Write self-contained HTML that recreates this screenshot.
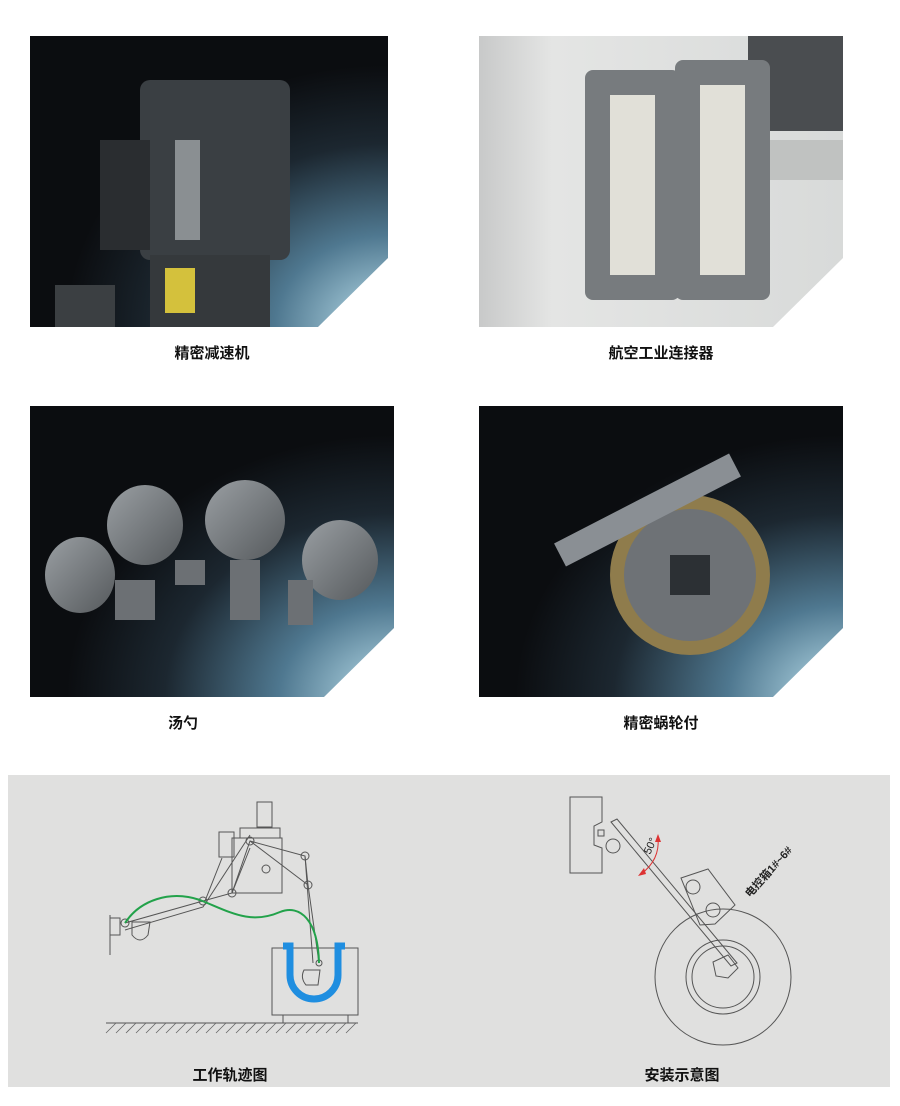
<!DOCTYPE html>
<html><head><meta charset="utf-8"><style>
body{margin:0;background:#fff;width:900px;height:1106px;overflow:hidden;font-family:"Liberation Sans","Noto Sans CJK SC",sans-serif}
</style></head><body>
<svg width="900" height="1106" xmlns="http://www.w3.org/2000/svg" style="position:absolute;left:0;top:0">
<defs>
<radialGradient id="g1" cx="1" cy="1" r="0.9">
<stop offset="0" stop-color="#bfe3ef"/><stop offset="0.35" stop-color="#4f7890"/><stop offset="0.7" stop-color="#1c2730"/><stop offset="1" stop-color="#0b0d10"/></radialGradient>
<linearGradient id="g2" x1="0" y1="0" x2="1" y2="0"><stop offset="0" stop-color="#c8c9c9"/><stop offset="0.2" stop-color="#e4e5e4"/><stop offset="1" stop-color="#d8dad9"/></linearGradient>
<linearGradient id="metal" x1="0" y1="0" x2="1" y2="1"><stop offset="0" stop-color="#9a9fa3"/><stop offset="1" stop-color="#55595c"/></linearGradient>
</defs>
<polygon points="30,36 388,36 388,258 318,327 30,327" fill="url(#g1)"/>
<rect x="140" y="80" width="150" height="180" rx="10" fill="#3a3f43"/>
<rect x="100" y="140" width="50" height="110" fill="#2a2d30"/>
<rect x="150" y="255" width="120" height="72" fill="#35393c"/>
<rect x="165" y="268" width="30" height="45" fill="#d4c13c"/>
<rect x="175" y="140" width="25" height="100" fill="#8a8f92"/>
<rect x="55" y="285" width="60" height="42" fill="#3b3f42"/>
<polygon points="479,36 843,36 843,258 773,327 479,327" fill="url(#g2)"/>
<rect x="748" y="36" width="95" height="95" fill="#4a4d50"/>
<rect x="748" y="140" width="95" height="40" fill="#c0c2c1"/>
<rect x="585" y="70" width="95" height="230" rx="8" fill="#777b7e"/>
<rect x="610" y="95" width="45" height="180" fill="#e1e0d8"/>
<rect x="675" y="60" width="95" height="240" rx="8" fill="#777b7e"/>
<rect x="700" y="85" width="45" height="190" fill="#e1e0d8"/>
<polygon points="30,406 394,406 394,628 324,697 30,697" fill="url(#g1)"/>
<ellipse cx="80" cy="575" rx="35" ry="38" fill="url(#metal)"/>
<ellipse cx="145" cy="525" rx="38" ry="40" fill="url(#metal)"/>
<ellipse cx="245" cy="520" rx="40" ry="40" fill="url(#metal)"/>
<ellipse cx="340" cy="560" rx="38" ry="40" fill="url(#metal)"/>
<rect x="115" y="580" width="40" height="40" fill="#6c7074"/>
<rect x="175" y="560" width="30" height="25" fill="#6c7074"/>
<rect x="230" y="560" width="30" height="60" fill="#6c7074"/>
<rect x="288" y="580" width="25" height="45" fill="#6c7074"/>
<polygon points="479,406 843,406 843,628 773,697 479,697" fill="url(#g1)"/>
<circle cx="690" cy="575" r="80" fill="#8f7c4c"/>
<circle cx="690" cy="575" r="66" fill="#6e7276"/>
<rect x="670" y="555" width="40" height="40" fill="#2c3034"/>
<line x1="560" y1="555" x2="735" y2="465" stroke="#8a8f94" stroke-width="26"/>
<g font-size="15" font-weight="bold" fill="#111" text-anchor="middle">
<text x="212" y="358">精密减速机</text>
<text x="661" y="358">航空工业连接器</text>
<text x="183" y="728">汤勺</text>
<text x="661" y="728">精密蜗轮付</text>
</g>
<rect x="8" y="775" width="882" height="312" fill="#e0e0df"/>
<g fill="none" stroke="#555" stroke-width="1">
<rect x="257" y="802" width="15" height="25"/><rect x="240" y="828" width="40" height="10"/>
<rect x="219" y="832" width="15" height="25"/>
<rect x="232" y="838" width="50" height="55"/>
<path d="M125,923 L203,901 L232,893 L250,841 L305,856 L308,885 L319,963"/>
<path d="M125,930 L203,907 L250,835 M250,848 L232,893 M250,841 L308,885 M205,901 L222,858 M305,856 L313,963"/>
<circle cx="125" cy="923" r="4"/><circle cx="203" cy="901" r="4"/><circle cx="232" cy="893" r="4"/><circle cx="250" cy="841" r="4"/><circle cx="305" cy="856" r="4"/><circle cx="308" cy="885" r="4"/><circle cx="319" cy="963" r="3"/><circle cx="266" cy="869" r="4"/>
<path d="M110,918 L120,918 L120,935 L110,935 M110,915 L110,955"/>
<path d="M132,922 L150,922 L148,935 Q140,945 132,935Z"/>
<path d="M304,970 L320,970 L318,985 L306,985 Q300,978 304,970Z"/>
<rect x="272" y="948" width="86" height="67"/>
<path d="M283,1015 L283,1023 M348,1015 L348,1023"/>
<line x1="106" y1="1023" x2="358" y2="1023"/>
</g>
<path d="M106,1033 l10,-10 M116,1033 l10,-10 M126,1033 l10,-10 M136,1033 l10,-10 M146,1033 l10,-10 M156,1033 l10,-10 M166,1033 l10,-10 M176,1033 l10,-10 M186,1033 l10,-10 M196,1033 l10,-10 M206,1033 l10,-10 M216,1033 l10,-10 M226,1033 l10,-10 M236,1033 l10,-10 M246,1033 l10,-10 M256,1033 l10,-10 M266,1033 l10,-10 M276,1033 l10,-10 M286,1033 l10,-10 M296,1033 l10,-10 M306,1033 l10,-10 M316,1033 l10,-10 M326,1033 l10,-10 M336,1033 l10,-10 M346,1033 l10,-10" stroke="#666" stroke-width="0.8"/>
<path d="M283,946 L290,946 L290,975 A24,24 0 0 0 338,975 L338,946 L345,946" fill="none" stroke="#1f8ee0" stroke-width="7"/>
<path d="M125,923 C140,900 170,890 200,900 C230,912 250,925 280,912 C300,904 318,920 319,963" fill="none" stroke="#22a24a" stroke-width="2"/>
<g fill="none" stroke="#555" stroke-width="1">
<path d="M570,797 L602,797 L602,822 L594,826 L594,845 L602,848 L602,873 L570,873Z"/>
<rect x="598" y="830" width="6" height="6"/><circle cx="613" cy="846" r="7"/>
<path d="M611,822 L617,819 L737,963 L731,966Z"/>
<path d="M681,878 L708,869 L735,905 L715,924 L700,925Z"/>
<circle cx="693" cy="887" r="7"/><circle cx="713" cy="910" r="7"/>
<circle cx="723" cy="977" r="68"/><circle cx="723" cy="977" r="37"/><circle cx="723" cy="977" r="31"/>
<path d="M713,962 L728,955 L738,968 L728,978 L716,976Z"/>
</g>
<path d="M641,874 Q660,860 658,838" fill="none" stroke="#d33" stroke-width="1"/>
<polygon points="638,876 644,868 646,874" fill="#d33"/><polygon points="658,834 655,842 661,842" fill="#d33"/>
<text x="650" y="855" font-size="11" fill="#222" transform="rotate(-65 650 855)">50°</text>
<text x="750" y="898" font-size="11" font-weight="bold" fill="#222" transform="rotate(-48 750 898)">电控箱1#~6#</text>
<g font-size="15" font-weight="bold" fill="#111" text-anchor="middle">
<text x="230" y="1080">工作轨迹图</text>
<text x="682" y="1080">安装示意图</text>
</g>
</svg>
</body></html>
